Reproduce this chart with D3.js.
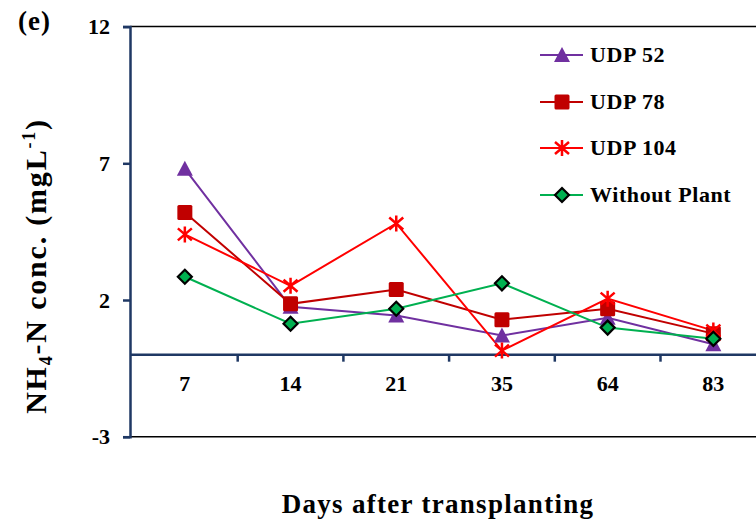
<!DOCTYPE html>
<html>
<head>
<meta charset="utf-8">
<script src="https://cdn.jsdelivr.net/npm/d3@7"></script>
<style>
  body { margin: 0; background: #fff; }
  text { font-family: "Liberation Serif", "Times New Roman", serif; font-weight: bold; }
</style>
</head>
<body>
<div id="chart"></div>
<script>
// days after transplanting
const days = ["7", "14", "21", "35", "64", "83"];
const yTicks = [-3, 2, 7, 12];

const udp52 = [6.8, 1.75, 1.43, 0.7, 1.35, 0.38];
const udp78 = [5.2, 1.86, 2.38, 1.28, 1.68, 0.77];
const udp104 = [4.4, 2.52, 4.8, 0.15, 2.05, 0.88];
const withoutPlant = [2.85, 1.13, 1.68, 2.61, 0.99, 0.58];

const seriesNames = ["UDP 52", "UDP 78", "UDP 104", "Without Plant"];

const W = 756, H = 523;
const navy = "#1f3864";

const svg = d3.select("#chart").append("svg")
    .attr("width", W)
    .attr("height", H);

const x = d3.scaleBand()
    .domain(days)
    .range([132, 132 + 6 * 105.7]);

const y = d3.scaleLinear()
    .domain([-3, 12])
    .range([436.7, 26.6]);

// frame top / bottom
svg.append("line")
    .attr("x1", 130).attr("x2", W)
    .attr("y1", y(12)).attr("y2", y(12))
    .attr("stroke", "#000").attr("stroke-width", 1.5);
svg.append("line")
    .attr("x1", 130).attr("x2", W)
    .attr("y1", y(-3)).attr("y2", y(-3))
    .attr("stroke", "#000").attr("stroke-width", 1.5);

// y axis
const yAxis = svg.append("g")
    .attr("transform", "translate(130,0)")
    .call(d3.axisLeft(y).tickValues(yTicks).tickSize(7).tickPadding(13).tickFormat(d => String(d)));
yAxis.select(".domain").attr("stroke", navy).attr("stroke-width", 2.5);
yAxis.selectAll(".tick line").attr("stroke", navy).attr("stroke-width", 2.5);
yAxis.selectAll(".tick text")
    .attr("font-size", 22)
    .attr("fill", "#000")
    .style("font-family", "Liberation Serif, serif")
    .style("font-weight", "bold");

// x axis at y = 0, ticks at band boundaries
const xAxis = svg.append("g")
    .attr("transform", `translate(0,${y(0)})`);
xAxis.append("line")
    .attr("x1", 130).attr("x2", W)
    .attr("stroke", navy).attr("stroke-width", 2.5);
xAxis.selectAll(".bt")
    .data(days.slice(1))
    .join("line")
    .attr("class", "bt")
    .attr("x1", d => x(d)).attr("x2", d => x(d))
    .attr("y1", 0).attr("y2", 7)
    .attr("stroke", navy).attr("stroke-width", 2.5);
xAxis.selectAll(".lbl")
    .data(days)
    .join("text")
    .attr("class", "lbl")
    .attr("x", d => x(d) + x.bandwidth() / 2)
    .attr("y", 36)
    .attr("text-anchor", "middle")
    .attr("font-size", 22)
    .text(d => d);

const cx = d => x(d) + x.bandwidth() / 2;

const series = [
    { name: seriesNames[0], values: udp52, color: "#7030a0", marker: "triangle" },
    { name: seriesNames[1], values: udp78, color: "#c00000", marker: "square" },
    { name: seriesNames[2], values: udp104, color: "#ff0000", marker: "star" },
    { name: seriesNames[3], values: withoutPlant, color: "#00b050", marker: "diamond" }
];

const line = d3.line()
    .x((d, i) => cx(days[i]))
    .y(d => y(d));

function drawMarker(g, type, color) {
    if (type === "triangle") {
        g.append("path")
            .attr("d", "M0,-8 L8,7 L-8,7 Z")
            .attr("fill", color);
    } else if (type === "square") {
        g.append("rect")
            .attr("x", -7.5).attr("y", -7.5)
            .attr("width", 15).attr("height", 15)
            .attr("rx", 1.5)
            .attr("fill", color);
    } else if (type === "star") {
        g.append("path")
            .attr("d", "M-7,-6 L7,6 M-7,6 L7,-6 M0,-8 L0,8")
            .attr("stroke", color).attr("stroke-width", 2.5)
            .attr("fill", "none");
    } else if (type === "diamond") {
        g.append("path")
            .attr("d", "M0,-7 L7,0 L0,7 L-7,0 Z")
            .attr("fill", color)
            .attr("stroke", "#000").attr("stroke-width", 2.2);
    }
}

series.forEach(s => {
    svg.append("path")
        .datum(s.values)
        .attr("d", line)
        .attr("fill", "none")
        .attr("stroke", s.color)
        .attr("stroke-width", 2);
});

series.forEach(s => {
    s.values.forEach((v, i) => {
        const g = svg.append("g")
            .attr("transform", `translate(${cx(days[i])},${y(v)})`);
        drawMarker(g, s.marker, s.color);
    });
});

// legend
const legendY = [55, 102, 148, 195];
series.forEach((s, i) => {
    const g = svg.append("g").attr("transform", `translate(540,${legendY[i]})`);
    g.append("line")
        .attr("x1", 0).attr("x2", 43)
        .attr("stroke", s.color).attr("stroke-width", 2);
    const m = g.append("g").attr("transform", "translate(22,0)");
    drawMarker(m, s.marker, s.color);
    g.append("text")
        .attr("x", 50)
        .attr("y", 7)
        .attr("font-size", 22)
        .attr("letter-spacing", 0.6)
        .text(s.name);
});

// titles
svg.append("text")
    .attr("x", 18).attr("y", 30)
    .attr("font-size", 27)
    .attr("letter-spacing", 1)
    .text("(e)");

svg.append("text")
    .attr("x", 438).attr("y", 513)
    .attr("text-anchor", "middle")
    .attr("font-size", 27)
    .attr("letter-spacing", 1.3)
    .text("Days after transplanting");

const yl = svg.append("text")
    .attr("transform", "translate(46,266) rotate(-90)")
    .attr("text-anchor", "middle")
    .attr("font-size", 30)
    .attr("letter-spacing", 1.8);
yl.append("tspan").text("NH");
yl.append("tspan").attr("font-size", 18).attr("dy", 6).text("4");
yl.append("tspan").attr("dy", -6).text("-N conc. (mgL");
yl.append("tspan").attr("font-size", 18).attr("dy", -11).text("-1");
yl.append("tspan").attr("dy", 11).text(")");
</script>
</body>
</html>
